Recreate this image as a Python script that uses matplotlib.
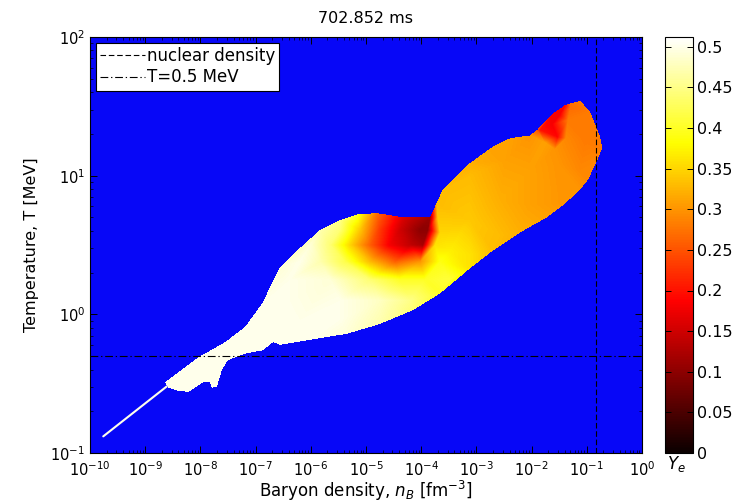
import numpy as np
import matplotlib
matplotlib.use("Agg")
import matplotlib.pyplot as plt
import matplotlib.tri as mtri
from matplotlib.path import Path
from matplotlib.ticker import LogLocator, NullFormatter

# ---------------- data ----------------
title_text = "702.852 ms"

# outline of the occupied region: log10(n_B [fm^-3]), log10(T [MeV]) and Ye on it
edge_logn = [-8.64, -8.04, -7.55, -7.19, -6.88, -6.56, -6.25, -5.83, -5.47, -5.16,
             -4.80, -4.33, -3.84, -3.61, -3.12, -2.70, -2.39, -2.03, -1.90, -1.61,
             -1.39, -1.30, -1.12, -0.94, -0.76, -0.72, -0.82, -0.98, -1.12, -1.39,
             -1.72, -2.21, -2.70, -3.12, -3.66, -4.15, -4.75, -5.34, -5.96, -6.56,
             -6.68, -6.87, -7.16, -7.50, -7.61, -7.70, -7.79, -7.83, -7.95, -8.10,
             -8.22, -8.41, -8.58]
edge_logT = [-0.49, -0.31, -0.20, -0.09, 0.08, 0.34, 0.46, 0.61, 0.68, 0.72,
             0.73, 0.70, 0.70, 0.90, 1.09, 1.21, 1.27, 1.29, 1.33, 1.45,
             1.51, 1.52, 1.54, 1.46, 1.28, 1.20, 1.10, 0.97, 0.90, 0.80,
             0.70, 0.59, 0.46, 0.33, 0.15, 0.03, -0.07, -0.14, -0.18, -0.22,
             -0.20, -0.26, -0.28, -0.33, -0.40, -0.52, -0.53, -0.49, -0.49, -0.53,
             -0.56, -0.55, -0.53]
edge_ye = [0.50, 0.50, 0.50, 0.50, 0.50, 0.49, 0.48, 0.47, 0.45, 0.40,
           0.27, 0.16, 0.11, 0.33, 0.32, 0.31, 0.31, 0.30, 0.25, 0.18,
           0.19, 0.27, 0.28, 0.28, 0.28, 0.28, 0.29, 0.29, 0.30, 0.30,
           0.31, 0.32, 0.33, 0.36, 0.40, 0.44, 0.47, 0.49, 0.50, 0.50,
           0.50, 0.50, 0.50, 0.50, 0.50, 0.50, 0.50, 0.50, 0.50, 0.50,
           0.50, 0.50, 0.50]

# Ye read at points inside the region
inner_logn = [-7.80, -7.20, -6.56,
              -5.47, -5.11, -4.75, -4.38, -4.02, -3.88, -3.66,
              -6.01, -5.65, -5.29, -4.93, -4.57, -4.20, -3.97, -3.75,
              -6.20, -5.83, -5.38, -4.93, -4.47, -4.02, -3.66,
              -6.38, -5.65, -4.93, -4.38, -3.93, -3.57,
              -6.38, -5.47, -4.75, -4.20,
              -6.20, -5.47,
              -3.70, -3.72,
              -3.48, -3.48, -3.12, -3.12, -3.12, -2.57, -2.57, -2.48, -2.03, -2.03,
              -1.49, -1.12, -1.03, -0.94,
              -1.85, -1.63, -1.49, -1.53, -1.76, -1.58, -1.34, -1.38, -1.30]
inner_logT = [-0.35, -0.20, 0.03,
              0.61, 0.61, 0.61, 0.61, 0.61, 0.61, 0.59,
              0.50, 0.50, 0.50, 0.50, 0.50, 0.50, 0.50, 0.50,
              0.38, 0.38, 0.38, 0.38, 0.38, 0.38, 0.38,
              0.25, 0.25, 0.25, 0.25, 0.25, 0.25,
              0.10, 0.10, 0.10, 0.10,
              -0.04, -0.04,
              0.70, 0.80,
              0.46, 0.25, 0.68, 0.43, 1.00, 0.82, 0.57, 1.11, 1.04, 0.79,
              1.08, 1.04, 1.26, 1.37,
              1.33, 1.37, 1.44, 1.28, 1.24, 1.19, 1.40, 1.27, 1.49]
inner_ye = [0.50, 0.50, 0.50,
            0.44, 0.34, 0.23, 0.15, 0.10, 0.10, 0.35,
            0.49, 0.44, 0.35, 0.26, 0.18, 0.14, 0.12, 0.36,
            0.50, 0.47, 0.42, 0.33, 0.26, 0.30, 0.39,
            0.50, 0.49, 0.44, 0.40, 0.40, 0.41,
            0.50, 0.50, 0.48, 0.45,
            0.50, 0.50,
            0.34, 0.33,
            0.37, 0.41, 0.34, 0.36, 0.33, 0.32, 0.33, 0.31, 0.31, 0.31,
            0.30, 0.29, 0.28, 0.28,
            0.20, 0.18, 0.18, 0.19, 0.31, 0.30, 0.28, 0.29, 0.27]

# thin low-density streak
streak_logn = [-9.76, -8.61]
streak_logT = [-0.88, -0.52]
streak_ye = 0.50

n_nuclear = 0.145        # fm^-3
T_ref = 0.5              # MeV
legend_labels = ["nuclear density", "T=0.5 MeV"]

ye_max = 0.512
cbar_ticks = [0, 0.05, 0.1, 0.15, 0.2, 0.25, 0.3, 0.35, 0.4, 0.45, 0.5]
cbar_labels = ["0", "0.05", "0.1", "0.15", "0.2", "0.25", "0.3", "0.35", "0.4", "0.45", "0.5"]

# ---------------- figure ----------------
plt.rcParams["font.family"] = ["DejaVu Sans"]
fig = plt.figure(figsize=(7.45, 5.04), dpi=100)
ax = fig.add_axes([90 / 745, 51 / 504, 552 / 745, 416 / 504])
ax.set_facecolor("#0707f7")
ax.set_xscale("log")
ax.set_yscale("log")
ax.set_xlim(1e-10, 1e0)
ax.set_ylim(1e-1, 1e2)

# Ye field inside the outline (triangulated in display-like proportions)
all_n = np.array(edge_logn + inner_logn)
all_T = np.array(edge_logT + inner_logT)
all_y = np.array(edge_ye + inner_ye)
stretch = 2.5
tri = mtri.Triangulation(all_n, all_T * stretch)
interp = mtri.LinearTriInterpolator(tri, all_y)
gx = np.linspace(-10, 0, 553)
gy = np.linspace(-1, 2, 417)
cx = 0.5 * (gx[1:] + gx[:-1])
cy = 0.5 * (gy[1:] + gy[:-1])
CX, CY = np.meshgrid(cx, cy)
Z = interp(CX, CY * stretch)
outline = Path(np.column_stack([edge_logn, edge_logT]))
inside = outline.contains_points(np.column_stack([CX.ravel(), CY.ravel()])).reshape(CX.shape)
Z = np.ma.masked_where(~inside | np.ma.getmaskarray(Z), Z)
cmap = plt.get_cmap("hot")
mesh = ax.pcolormesh(10.0 ** gx, 10.0 ** gy, Z, cmap=cmap, vmin=0, vmax=ye_max,
                     shading="flat", rasterized=True)

ax.plot(10.0 ** np.array(streak_logn), 10.0 ** np.array(streak_logT),
        color=cmap(streak_ye / ye_max), lw=1.5, solid_capstyle="round")

l1 = ax.axvline(n_nuclear, color="k", ls=(0, (5, 2.5)), lw=0.8)
l2 = ax.axhline(T_ref, color="k", ls=(0, (7, 2.5, 1.2, 2.5)), lw=0.8)

leg = ax.legend([l1, l2], legend_labels, loc="upper left", fontsize=12,
                frameon=True, fancybox=False, framealpha=1, edgecolor="k",
                handlelength=2.7, handletextpad=0.1, borderpad=0.25,
                borderaxespad=0.35, labelspacing=0.2)
leg.get_frame().set_linewidth(0.8)

ax.xaxis.set_major_locator(LogLocator(base=10, numticks=15))
ax.yaxis.set_major_locator(LogLocator(base=10, numticks=15))
ax.xaxis.set_minor_locator(LogLocator(base=10, subs=np.arange(2, 10), numticks=15))
ax.yaxis.set_minor_locator(LogLocator(base=10, subs=np.arange(2, 10), numticks=15))
ax.xaxis.set_minor_formatter(NullFormatter())
ax.yaxis.set_minor_formatter(NullFormatter())
ax.tick_params(which="both", direction="in", top=True, right=True, labelsize=10.5)
ax.tick_params(axis="x", which="major", pad=5)
ax.tick_params(which="major", length=5, width=0.7)
ax.tick_params(which="minor", length=2.5, width=0.5)
for s in ax.spines.values():
    s.set_linewidth(0.8)

ax.set_title(title_text, fontsize=11.5, pad=10)
ax.set_xlabel(r"Baryon density, $n_B$ [fm$^{-3}$]", fontsize=12, labelpad=0)
ax.set_ylabel("Temperature, T [MeV]", fontsize=11.5, labelpad=8)

# colour bar
cax = fig.add_axes([665 / 745, 51 / 504, 28 / 745, 416 / 504])
cb = fig.colorbar(mesh, cax=cax, ticks=cbar_ticks)
cb.ax.set_yticklabels(cbar_labels)
cb.outline.set_linewidth(0.8)
cax.tick_params(direction="in", left=True, right=True, length=4, width=0.7,
                labelsize=11.5, pad=3)
cax.text(0.4, -0.002, r"$Y_e$", transform=cax.transAxes, ha="center", va="top",
         fontsize=12)

fig.savefig("out.png", dpi=100)
